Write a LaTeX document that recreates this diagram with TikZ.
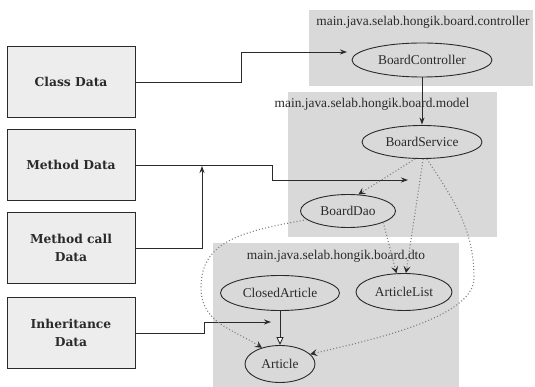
\documentclass[tikz,border=0pt]{standalone}
\usepackage{fontspec}
\setmainfont{Liberation Serif}
\newfontfamily\boxfont{DejaVu Serif}
\usetikzlibrary{arrows.meta,shapes.geometric}
\definecolor{pkgfill}{HTML}{D9D9D9}
\definecolor{boxfill}{HTML}{EDEDED}
\definecolor{ink}{HTML}{2A2A2A}
\definecolor{dotc}{HTML}{7E7E7E}
\tikzset{
  databox/.style={draw=ink, line width=1pt, fill=boxfill, minimum width=128pt, minimum height=71pt,
    align=center, font=\boxfont\bfseries\fontsize{12.3}{18}\selectfont, text=ink, inner sep=0pt},
  pkg/.style={fill=pkgfill, draw=none, inner sep=0pt},
  pkgtitle/.style={font=\rmfamily\fontsize{13.4}{15}\selectfont, text=ink, inner sep=0pt},
  cls/.style={ellipse, draw=ink, line width=0.9pt, font=\rmfamily\fontsize{13.4}{15}\selectfont, text=ink, inner sep=0pt},
  conn/.style={draw=ink, line width=0.9pt, -{Stealth[length=7pt,width=5pt]}},
  dep/.style={draw=dotc, line width=1.1pt, dash pattern=on 1pt off 2.2pt,
    -{Stealth[length=7pt,width=7pt,inset=3pt,color=ink,line width=0.6pt]}},
  inher/.style={draw=ink, line width=0.9pt, -{Triangle[open,length=8pt,width=7pt,fill=white]}}
}
\begin{document}
\begin{tikzpicture}[x=1pt,y=-1pt]
\useasboundingbox (0,0) rectangle (535,387);
\fill[white] (0,0) rectangle (535,387);
% packages
\node[pkg, minimum width=224pt, minimum height=76pt] (pctl) at (421,48) {};
\node[pkg, minimum width=209pt, minimum height=145pt] (pmdl) at (392.5,164.5) {};
\node[pkg, minimum width=246pt, minimum height=144pt] (pdto) at (336,315) {};
\node[pkgtitle] (tctl) at (423,22) {main.java.selab.hongik.board.controller};
\node[pkgtitle] (tmdl) at (372,104) {main.java.selab.hongik.board.model};
\node[pkgtitle] (tdto) at (336,256) {main.java.selab.hongik.board.dto};
% classes
\node[cls, minimum width=140pt, minimum height=34pt] (bc) at (422,60) {BoardController};
\node[cls, minimum width=120pt, minimum height=33pt] (svc) at (422,142) {BoardService};
\node[cls, minimum width=95pt, minimum height=33pt] (dao) at (348,211) {BoardDao};
\node[cls, minimum width=119pt, minimum height=35pt] (ca) at (280,293) {ClosedArticle};
\node[cls, minimum width=96pt, minimum height=37pt] (al) at (404,292) {ArticleList};
\node[cls, minimum width=70pt, minimum height=37pt] (art) at (280,364) {Article};
% data boxes
\node[databox] (cdata) at (71,82) {Class Data};
\node[databox] (mdata) at (71,165) {Method Data};
\node[databox] (mcdata) at (71,248) {Method call\\Data};
\node[databox] (idata) at (71,333) {Inheritance\\Data};
% arrow targets
\coordinate (t1) at (347,52);
\coordinate (t2) at (408,180);
\coordinate (t3) at (202,166);
\coordinate (t4) at (271,322);
\draw[conn] (cdata.east) -- ++(106,0) |- (t1);
\draw[conn] (mdata.east) -- ++(137,0) |- (t2);
\draw[conn] (mcdata.east) -| (t3);
\draw[conn] (idata.east) -- ++(69,0) |- (t4);
% class relations
\draw[conn, shorten >=0.5pt] (bc.south) -- (svc.north);
\draw[inher] (ca.south) -- (art.north);
\draw[dep] (svc.-112) -- (dao.58);
\draw[dep] (svc.-86) -- (al.84);
\draw[dep] (dao.-18) -- (al.112);
\coordinate (w1) at (474,278);
\draw[dep] (svc.-74) .. controls +(26,40) and +(0,-50) .. (w1) .. controls +(0,40) and +(60,-14) .. (art.18);
\coordinate (w2) at (201,288);
\draw[dep] (dao.192) .. controls +(-70,12) and +(0,-45) .. (w2) .. controls +(0,35) and +(-28,-18) .. (art.138);
\end{tikzpicture}
\end{document}
